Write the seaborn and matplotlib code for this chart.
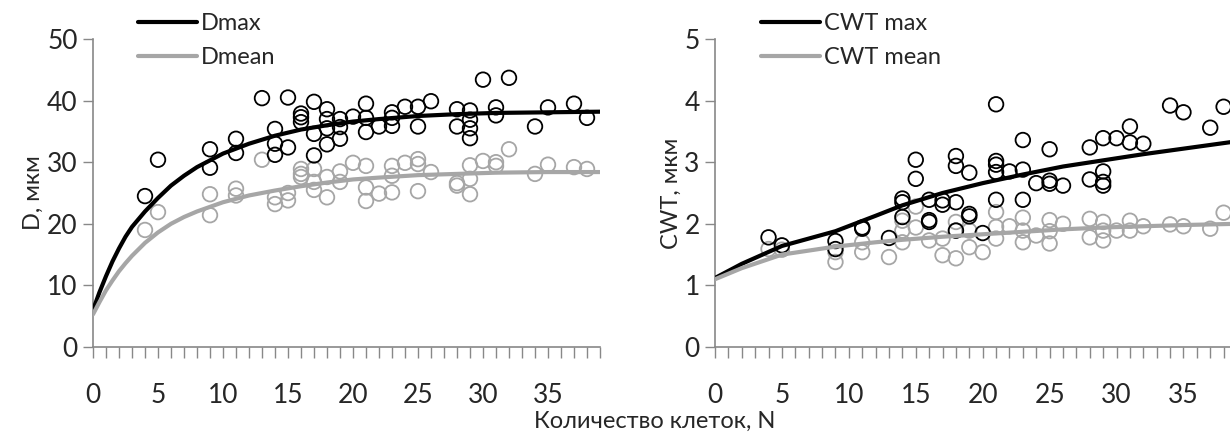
import matplotlib
matplotlib.use("Agg")
import matplotlib.pyplot as plt
import seaborn as sns
import numpy as np
import pandas as pd

#### data ####
# Dmax / Dmean points (cells count N, value)
dmax_n = [4, 5, 9, 9, 11, 11, 13, 14, 14, 14, 15, 15, 16, 16, 16, 17, 17, 17, 18, 18, 18, 18,
          19, 19, 19, 20, 21, 21, 21, 22, 23, 23, 23, 24, 25, 25, 26, 28, 28, 29, 29, 29, 29,
          30, 31, 31, 32, 34, 35, 37, 38]
dmax_v = [24.5, 30.4, 32.1, 29.1, 33.8, 31.5, 40.4, 35.4, 33.0, 31.2, 40.5, 32.4, 37.9, 37.3, 36.5,
          39.8, 34.6, 31.1, 38.6, 37.0, 35.5, 32.9, 37.0, 35.7, 33.8, 37.4, 39.5, 37.2, 34.9, 35.8,
          38.1, 37.2, 35.9, 39.0, 39.0, 35.8, 39.9, 38.6, 35.8, 38.4, 36.9, 35.5, 33.9, 43.4, 38.9,
          37.6, 43.7, 35.8, 38.9, 39.5, 37.2]

dmean_n = [4, 5, 9, 9, 11, 11, 13, 14, 14, 15, 15, 16, 16, 16, 17, 17, 17, 18, 18, 19, 19, 20,
           21, 21, 21, 22, 23, 23, 23, 24, 25, 25, 25, 26, 28, 28, 29, 29, 29, 30, 31, 31, 32,
           34, 35, 37, 38]
dmean_v = [19.0, 21.9, 24.8, 21.4, 25.7, 24.6, 30.4, 24.3, 23.2, 25.0, 23.8, 28.9, 28.1, 27.6,
           28.9, 26.8, 25.5, 27.6, 24.3, 28.5, 26.8, 29.9, 29.4, 25.9, 23.7, 24.9, 29.4, 27.8,
           25.1, 29.9, 30.5, 29.7, 25.3, 28.4, 26.6, 26.2, 29.5, 27.3, 24.8, 30.2, 30.0, 29.4,
           32.1, 28.1, 29.6, 29.2, 28.9]

# fitted curves
dfit_n = [0, 0.5, 1, 1.5, 2, 2.5, 3, 4, 5, 6, 7, 8, 10, 12, 14, 16, 18, 20, 22, 25, 28, 31, 35, 39]
dmax_fit = [6.0, 8.9, 11.5, 13.9, 16.0, 17.9, 19.5, 22.0, 24.2, 26.2, 27.8, 29.2, 31.4, 33.0,
            34.3, 35.3, 36.0, 36.6, 37.0, 37.5, 37.8, 38.0, 38.1, 38.2]
dmean_fit = [5.3, 7.3, 9.2, 10.8, 12.3, 13.6, 14.8, 16.9, 18.6, 20.0, 21.1, 22.0, 23.5, 24.6,
             25.4, 26.1, 26.7, 27.2, 27.5, 27.9, 28.1, 28.3, 28.4, 28.4]

# CWT max / CWT mean points
cmax_n = [4, 5, 9, 9, 11, 11, 13, 14, 14, 14, 15, 15, 16, 16, 16, 17, 17, 18, 18, 18, 18,
          19, 19, 19, 20, 21, 21, 21, 21, 21, 22, 23, 23, 23, 24, 25, 25, 25, 26, 28, 28,
          29, 29, 29, 29, 30, 31, 31, 32, 34, 35, 37, 38]
cmax_v = [1.78, 1.65, 1.72, 1.59, 1.94, 1.92, 1.77, 2.41, 2.35, 2.11, 3.04, 2.73, 2.39, 2.06,
          2.03, 2.38, 2.31, 3.10, 2.94, 2.35, 1.89, 2.83, 2.16, 2.12, 1.85, 3.94, 3.02, 2.96,
          2.84, 2.39, 2.85, 3.36, 2.88, 2.39, 2.66, 3.21, 2.70, 2.65, 2.62, 3.24, 2.72, 3.39,
          2.85, 2.68, 2.62, 3.39, 3.58, 3.32, 3.30, 3.92, 3.81, 3.56, 3.90]

cmean_n = [4, 5, 9, 9, 11, 11, 13, 14, 14, 14, 15, 15, 16, 17, 17, 18, 18, 18, 19, 19, 20,
           21, 21, 21, 22, 23, 23, 23, 24, 25, 25, 25, 26, 28, 28, 29, 29, 29, 30, 31, 31,
           32, 34, 35, 37, 38]
cmean_v = [1.59, 1.58, 1.54, 1.38, 1.70, 1.54, 1.46, 2.05, 1.89, 1.70, 2.28, 1.94, 1.73, 1.76,
           1.49, 2.03, 1.89, 1.44, 1.89, 1.62, 1.54, 2.19, 1.95, 1.76, 1.96, 2.10, 1.89, 1.70,
           1.81, 2.06, 1.88, 1.68, 2.00, 2.08, 1.78, 2.03, 1.89, 1.73, 1.89, 2.05, 1.89, 1.96,
           1.99, 1.96, 1.92, 2.18]

cfit_n = [0, 2, 5, 9, 12, 14, 17, 20, 23, 26, 29, 32, 35, 39]
cmax_fit = [1.12, 1.35, 1.64, 1.88, 2.13, 2.30, 2.50, 2.66, 2.80, 2.93, 3.03, 3.13, 3.22, 3.34]
cmean_fit = [1.10, 1.28, 1.50, 1.63, 1.70, 1.74, 1.79, 1.83, 1.87, 1.91, 1.94, 1.96, 1.98, 2.00]

BLACK = "#000000"
GRAY = "#a6a6a6"

sns.set_style("white")
plt.rcParams["font.family"] = ["Lato", "DejaVu Sans"]

fig = plt.figure(figsize=(12.3, 4.34), dpi=100)
ax1 = fig.add_axes([93 / 1230, 1 - 347 / 434, 507 / 1230, 308 / 434])
ax2 = fig.add_axes([715 / 1230, 1 - 347 / 434, 522 / 1230, 308 / 434])


def panel(ax, n_max, v_max, n_mean, v_mean, fit_n, fit_max, fit_mean, ymax, ystep, ylab, names):
    sns.scatterplot(x=n_mean, y=v_mean, ax=ax, s=110, marker="o", facecolors="none",
                    edgecolor=GRAY, linewidth=1.3, zorder=2)
    sns.scatterplot(x=n_max, y=v_max, ax=ax, s=110, marker="o", facecolors="none",
                    edgecolor=BLACK, linewidth=1.3, zorder=3)
    sns.lineplot(x=fit_n, y=fit_max, ax=ax, color=BLACK, lw=3, label=names[0], zorder=4)
    sns.lineplot(x=fit_n, y=fit_mean, ax=ax, color=GRAY, lw=3, label=names[1], zorder=4)

    ax.set_xlim(0, 39)
    ax.set_ylim(0, ymax)
    ax.set_xticks(np.arange(0, 36, 5))
    ax.set_xticks(np.arange(0, 40, 1), minor=True)
    ax.set_yticks(np.arange(0, ymax + ystep / 2, ystep))
    ax.tick_params(axis="x", which="both", direction="out", length=8, width=1, color="#888888",
                   pad=18, labelsize=19, bottom=True)
    ax.tick_params(axis="y", direction="out", length=7, width=1, color="#888888",
                   pad=4, labelsize=19, left=True)
    for s in ["top", "right"]:
        ax.spines[s].set_visible(False)
    for s in ["left", "bottom"]:
        ax.spines[s].set_color("#888888")
        ax.spines[s].set_linewidth(1.2)
    ax.set_ylabel(ylab, fontsize=17, labelpad=2)
    ax.set_xlabel("")
    ax.patch.set_alpha(0)
    ax.legend(loc="upper left", bbox_to_anchor=(0.07, 1.115), frameon=False, fontsize=17,
              handlelength=2.5, handletextpad=0.15, labelspacing=0.55, borderaxespad=0)


panel(ax1, dmax_n, dmax_v, dmean_n, dmean_v, dfit_n, dmax_fit, dmean_fit,
      50, 10, "D, мкм", ["Dmax", "Dmean"])
panel(ax2, cmax_n, cmax_v, cmean_n, cmean_v, cfit_n, cmax_fit, cmean_fit,
      5, 1, "CWT, мкм", ["CWT max", "CWT mean"])

fig.text(655 / 1230, 1 - 421 / 434, "Количество клеток, N", ha="center", va="center", fontsize=17)

fig.savefig("out.png", dpi=100)
